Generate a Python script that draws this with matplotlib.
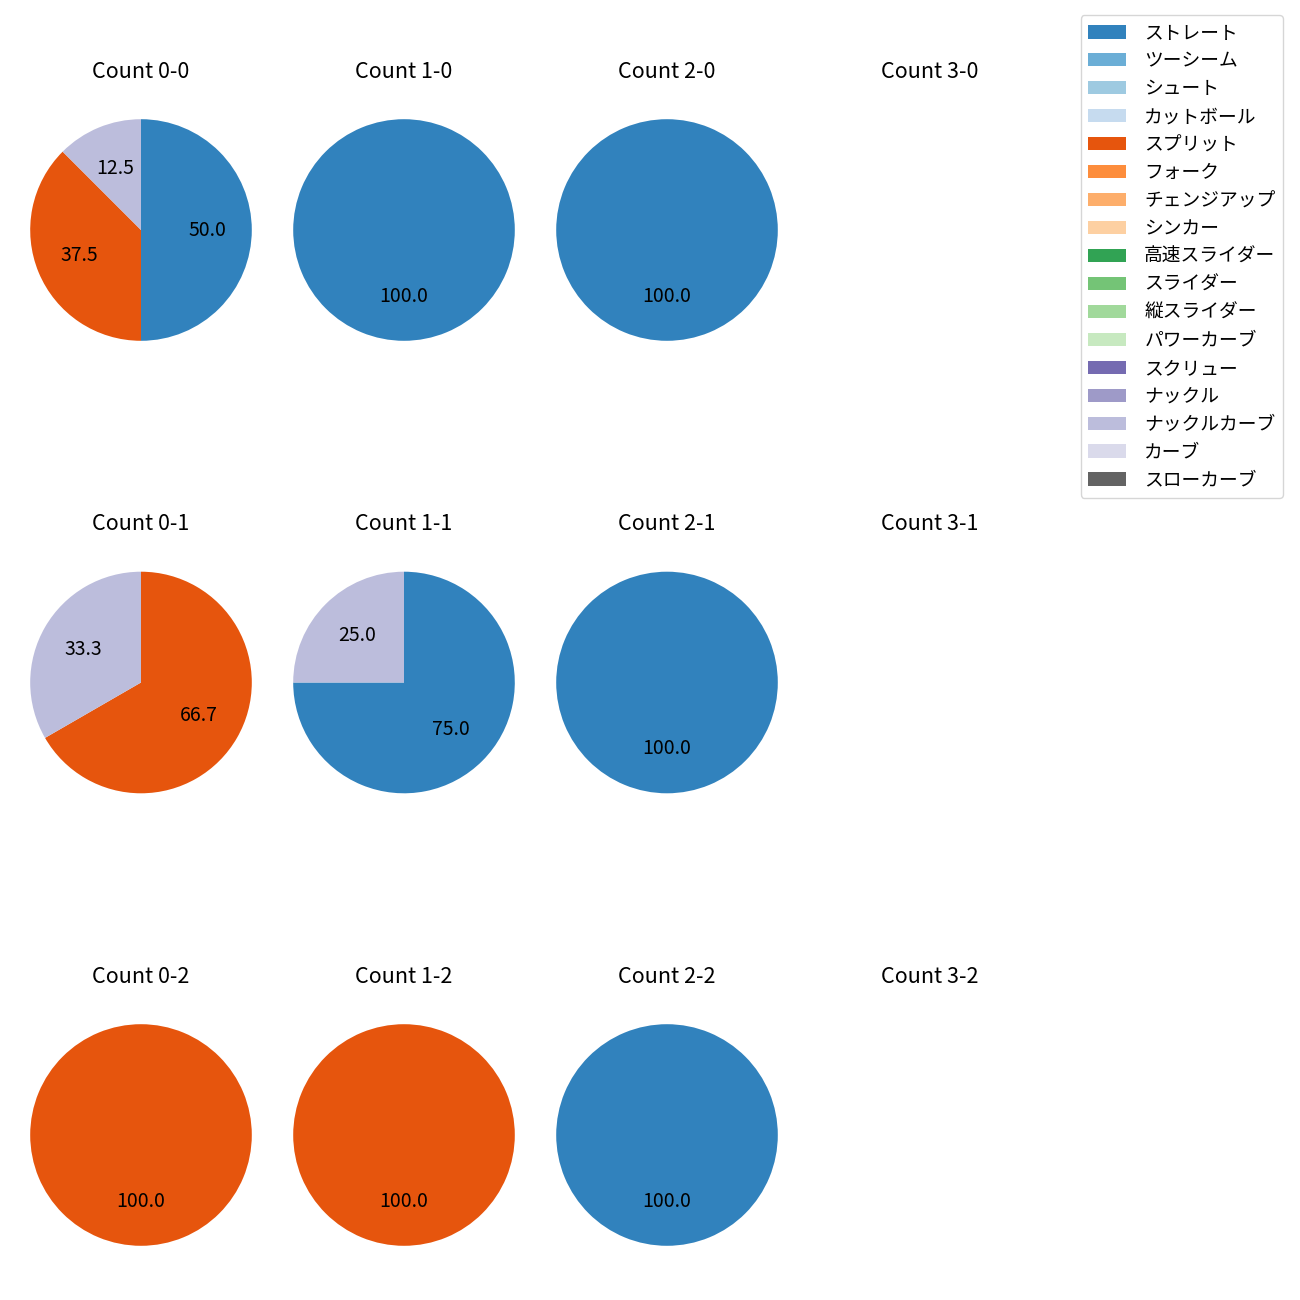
import numpy as np
import matplotlib
matplotlib.use("Agg")
import matplotlib.pyplot as plt
from matplotlib.patches import Patch

plt.rcParams['font.family'] = ['Noto Sans CJK JP', 'DejaVu Sans']
plt.rcParams['font.size'] = 14

# 球種（凡例の順番）
pitch_types = ['ストレート', 'ツーシーム', 'シュート', 'カットボール', 'スプリット',
               'フォーク', 'チェンジアップ', 'シンカー', '高速スライダー', 'スライダー',
               '縦スライダー', 'パワーカーブ', 'スクリュー', 'ナックル', 'ナックルカーブ',
               'カーブ', 'スローカーブ']

# カウント別の投球数 (balls, strikes) -> {球種: 球数}
count_0_0 = {'ストレート': 4, 'スプリット': 3, 'ナックルカーブ': 1}
count_1_0 = {'ストレート': 1}
count_2_0 = {'ストレート': 1}
count_3_0 = {}
count_0_1 = {'スプリット': 2, 'ナックルカーブ': 1}
count_1_1 = {'ストレート': 3, 'ナックルカーブ': 1}
count_2_1 = {'ストレート': 1}
count_3_1 = {}
count_0_2 = {'スプリット': 1}
count_1_2 = {'スプリット': 1}
count_2_2 = {'ストレート': 1}
count_3_2 = {}

counts = {
    (0, 0): count_0_0, (1, 0): count_1_0, (2, 0): count_2_0, (3, 0): count_3_0,
    (0, 1): count_0_1, (1, 1): count_1_1, (2, 1): count_2_1, (3, 1): count_3_1,
    (0, 2): count_0_2, (1, 2): count_1_2, (2, 2): count_2_2, (3, 2): count_3_2,
}

cmap = plt.get_cmap('tab20c')
colors = {p: cmap(i) for i, p in enumerate(pitch_types)}

W = H = 1300
fig = plt.figure(figsize=(13, 13), dpi=100)

size = 277  # axes box in px (pie radius * 2.5)
for (b, s), data in counts.items():
    cx = 141 + 263 * b
    cy = 230 + 452.5 * s
    ax = fig.add_axes([(cx - size / 2) / W, 1 - (cy + size / 2) / H, size / W, size / H])
    ax.set_title(f'Count {b}-{s}', pad=10, fontsize=15.5)
    labels = [p for p in pitch_types if data.get(p, 0) > 0]
    if labels:
        vals = [data[p] for p in labels]
        ax.pie(vals, colors=[colors[p] for p in labels], autopct='%.1f',
               startangle=90, counterclock=False, pctdistance=0.6)
    else:
        ax.axis('off')

handles = [Patch(facecolor=colors[p], label=p) for p in pitch_types]
fig.legend(handles=handles, loc='upper right', bbox_to_anchor=(1283 / W, 1 - 15 / H),
           borderaxespad=0, fontsize=13.5, labelspacing=0.37, handletextpad=1.0)

fig.savefig('out.png', dpi=100)
